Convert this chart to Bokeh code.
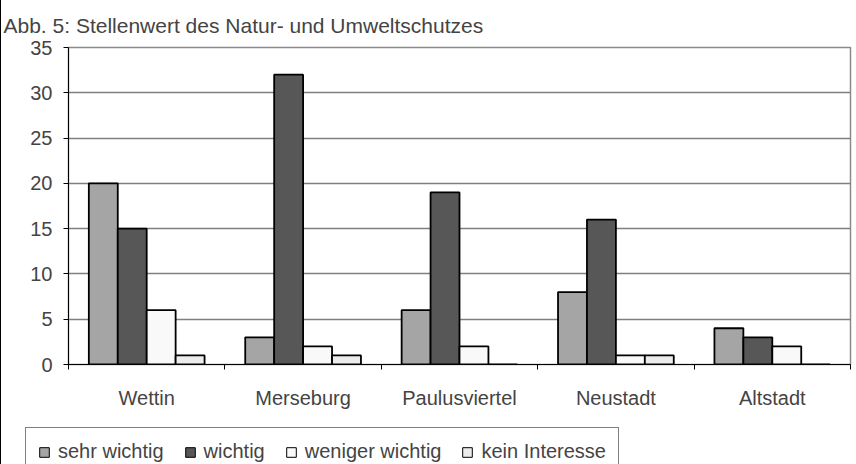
from bokeh.plotting import figure
from bokeh.layouts import column
from bokeh.models import (ColumnDataSource, Range1d, FixedTicker, Legend, LegendItem, Title)
from bokeh.transform import dodge
from bokeh.embed import file_html
from bokeh.resources import INLINE

# ---- data ----
categories = ["Wettin", "Merseburg", "Paulusviertel", "Neustadt", "Altstadt"]
sehr_wichtig = [20, 3, 6, 8, 4]
wichtig = [15, 32, 19, 16, 3]
weniger_wichtig = [6, 2, 2, 1, 2]
kein_interesse = [1, 1, 0, 1, 0]
series_names = ["sehr wichtig", "wichtig", "weniger wichtig", "kein Interesse"]
series_colors = ["#a5a5a5", "#575757", "#f9f9f9", "#ececec"]
y_ticks = [0, 5, 10, 15, 20, 25, 30, 35]
title_text = "Abb. 5: Stellenwert des Natur- und Umweltschutzes"

FONT = "Liberation Sans"

centers = [i + 0.5 for i in range(len(categories))]
source = ColumnDataSource(dict(x=centers, s0=sehr_wichtig, s1=wichtig,
                               s2=weniger_wichtig, s3=kein_interesse))

MAIN_H = 418
p = figure(width=856, height=MAIN_H, output_backend="svg", toolbar_location=None,
           x_range=Range1d(0, len(categories)), y_range=Range1d(0, 35),
           min_border_left=67, min_border_right=7, min_border_top=46,
           min_border_bottom=54, frame_align=False)

bar_w = 0.185
offsets = [-1.5 * bar_w, -0.5 * bar_w, 0.5 * bar_w, 1.5 * bar_w]
for k, color in enumerate(series_colors):
    p.vbar(x=dodge("x", offsets[k], range=p.x_range), top="s%d" % k,
           width=bar_w, source=source, fill_color=color,
           line_color="black", line_width=1.8)

# axes
p.yaxis.ticker = FixedTicker(ticks=y_ticks)
p.yaxis.major_tick_out = 5
p.yaxis.major_tick_in = 0
p.yaxis.minor_tick_line_color = None
p.yaxis.axis_line_color = "black"
p.yaxis.major_label_text_font = FONT
p.yaxis.major_label_text_font_size = "20px"
p.yaxis.major_label_standoff = 11

p.xaxis.ticker = FixedTicker(ticks=centers,
                             minor_ticks=list(range(len(categories) + 1)))
p.xaxis.major_label_overrides = {c: lab for c, lab in zip(centers, categories)}
p.xaxis.major_tick_out = 0
p.xaxis.major_tick_in = 0
p.xaxis.minor_tick_out = 5
p.xaxis.minor_tick_in = 0
p.xaxis.axis_line_color = "black"
p.xaxis.major_label_text_font = FONT
p.xaxis.major_label_text_font_size = "20px"
p.xaxis.major_label_standoff = 17

p.xgrid.grid_line_color = None
p.ygrid.grid_line_color = "#7f7f7f"
p.ygrid.grid_line_width = 1.5
p.outline_line_color = "#8a8a8a"
p.outline_line_width = 1.5

p.title = Title(text=title_text, text_font=FONT, text_font_size="21px",
                text_font_style="normal", offset=-65, standoff=22)

# ---- legend strip (separate figure below the chart) ----
LEG_H = 464 - MAIN_H
q = figure(width=856, height=LEG_H, output_backend="svg", toolbar_location=None,
           x_range=p.x_range, y_range=Range1d(100, 101),
           x_axis_location=None, y_axis_location=None,
           min_border_left=24, min_border_right=0, min_border_top=9,
           min_border_bottom=0, frame_align=False)
q.xgrid.grid_line_color = None
q.ygrid.grid_line_color = None
q.outline_line_color = None
items = []
for k, (name, color) in enumerate(zip(series_names, series_colors)):
    r = q.vbar(x=dodge("x", offsets[k], range=q.x_range), top="s%d" % k,
               width=bar_w, source=source, fill_color=color,
               line_color="black", line_width=1)
    items.append(LegendItem(label=name, renderers=[r]))

legend = Legend(items=items, orientation="horizontal", location="top_left",
                label_text_font=FONT, label_text_font_size="20px",
                glyph_width=12, glyph_height=12, label_standoff=8,
                spacing=20, padding=12, margin=0,
                border_line_color="black", border_line_width=1,
                background_fill_color="white", background_fill_alpha=1)
q.add_layout(legend, "center")

layout = column(p, q, spacing=0, styles={"border-left": "1px solid black"})

open("out.html", "w").write(file_html(layout, INLINE))
